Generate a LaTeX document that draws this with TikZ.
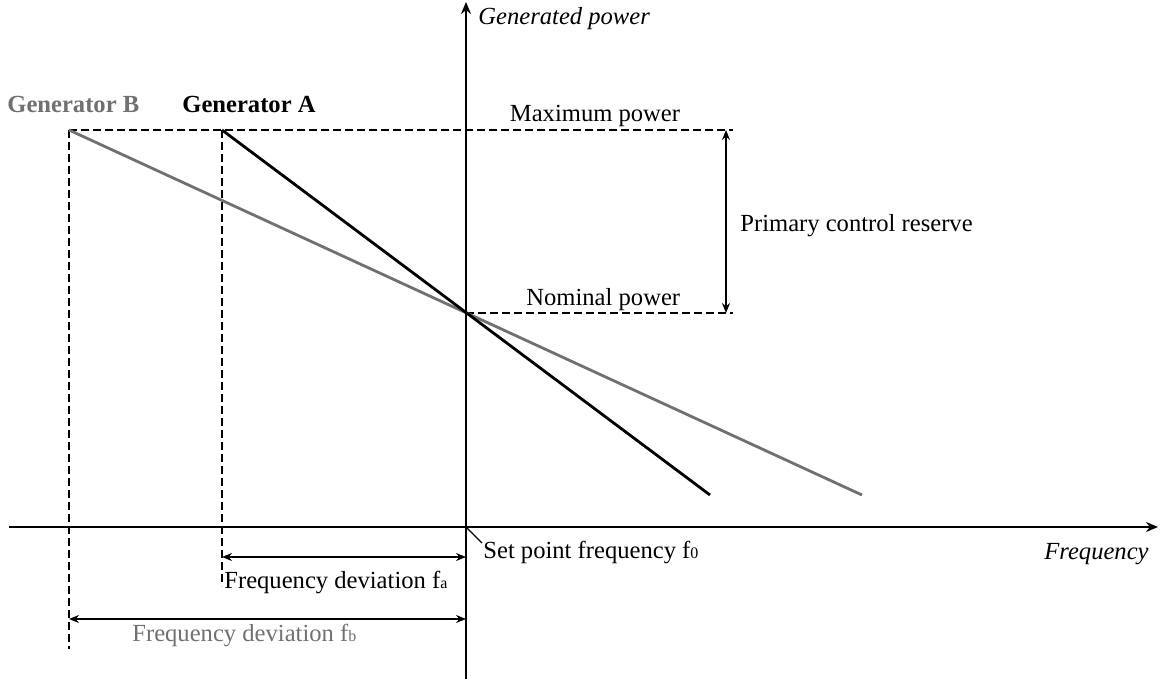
\documentclass[tikz,border=0pt]{standalone}
\usepackage{fontspec}
\setmainfont{Liberation Serif}
\usetikzlibrary{arrows.meta}
\definecolor{curvegray}{RGB}{112,112,112}
\newcommand{\sm}[1]{{\fontsize{8}{9}\selectfont #1}}
\tikzset{
  axis/.style={line width=1pt,-{Stealth[length=6pt,width=5pt]}},
  guide/.style={line width=0.7pt,dash pattern=on 4pt off 2pt},
  dim/.style={line width=0.8pt,{Stealth[length=5pt,width=4pt]}-{Stealth[length=5pt,width=4pt]}},
  droop/.style={line width=1.4pt},
  lbl/.style={inner sep=0pt,anchor=base west,font=\fontsize{12.3}{14}\selectfont},
}
\begin{document}
\begin{tikzpicture}[x=0.5pt,y=-0.5pt]
\useasboundingbox (0,0) rectangle (1168,679);
% key points
\coordinate (yb) at (466,679);
\coordinate (yt) at (466,2);
\coordinate (xl) at (9,527);
\coordinate (xr) at (1158,527);
\coordinate (o) at (466,527);
\coordinate (nom) at (466,313);
\coordinate (pa) at (222,130);
\coordinate (pb) at (69,130);
\coordinate (ea) at (710,495);
\coordinate (eb) at (862,495);
\coordinate (maxr) at (733,130);
\coordinate (nomr) at (733,313);
\coordinate (ra) at (726,130);
\coordinate (rb) at (726,313);
\coordinate (da) at (222,586);
\coordinate (db) at (69,649);
\coordinate (fa1) at (222,557);
\coordinate (fa2) at (466,557);
\coordinate (fb1) at (69,619);
\coordinate (fb2) at (466,619);
\coordinate (lead) at (482,543);

% axes
\draw[axis] (xl) -- (xr);
\draw[axis] (yb) -- (yt);

% power levels and frequency guides
\draw[guide] (pb) -- (maxr);
\draw[guide] (nom) -- (nomr);
\draw[guide] (pa) -- (da);
\draw[guide] (pb) -- (db);

% droop characteristics
\draw[droop,curvegray] (pb) -- (eb);
\draw[droop,black] (pa) -- (ea);

% dimension arrows
\draw[dim] (ra) -- (rb);
\draw[dim] (fa1) -- (fa2);
\draw[dim] (fb1) -- (fb2);
\draw[line width=0.6pt] (o) -- (lead);

% labels
\node[lbl,font=\fontsize{12.3}{14}\selectfont\itshape] (gp) at (478,25) {Generated power};
\node[lbl,font=\fontsize{12.3}{14}\selectfont\bfseries,text=curvegray] (genb) at (7,113) {Generator B};
\node[lbl,font=\fontsize{12.3}{14}\selectfont\bfseries] (gena) at (182,113) {Generator A};
\node[lbl,anchor=base] (maxp) at (595,122) {Maximum power};
\node[lbl] (nomp) at (526,306) {Nominal power};
\node[lbl] (pcr) at (740,232) {Primary control reserve};
\node[lbl] (spf) at (483,558) {Set point frequency f\sm{0}};
\node[lbl,anchor=base east,font=\fontsize{12.3}{14}\selectfont\itshape] (freq) at (1149,559) {Frequency};
\node[lbl] (fdA) at (224,588) {Frequency deviation f\sm{a}};
\node[lbl,text=curvegray] (fdB) at (132,641) {Frequency deviation f\sm{b}};
\end{tikzpicture}
\end{document}
